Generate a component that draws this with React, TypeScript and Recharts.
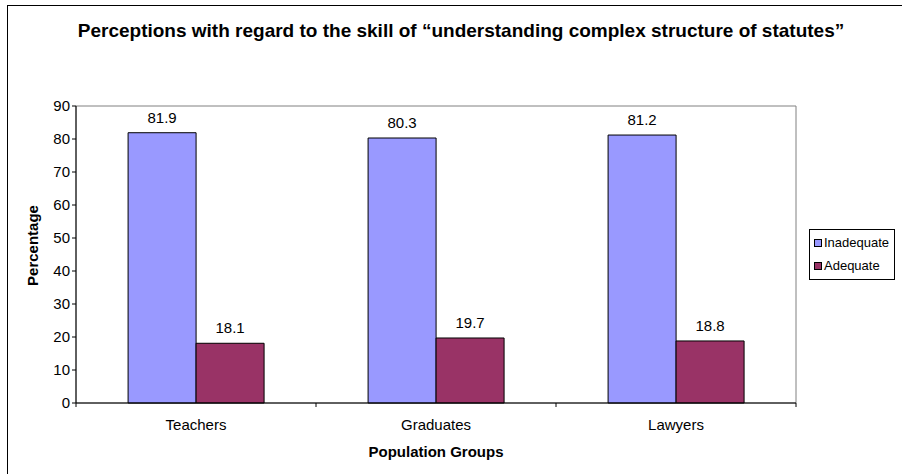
import { BarChart, Bar, XAxis, YAxis, LabelList, Legend, ReferenceArea, Label } from "recharts";

const groups = ["Teachers", "Graduates", "Lawyers"];
const seriesNames = ["Inadequate", "Adequate"];
const inadequate = [81.9, 80.3, 81.2];
const adequate = [18.1, 19.7, 18.8];
const yTicks = [0, 10, 20, 30, 40, 50, 60, 70, 80, 90];

const data = groups.map((g, i) => ({ group: g, Inadequate: inadequate[i], Adequate: adequate[i] }));

const FONT = "'Liberation Sans', Arial, sans-serif";

const GroupTick = (props: any) => {
  const { x, y, payload, index } = props;
  const half = payload.offset || 120;
  return (
    <g>
      <line x1={x - half} y1={y - 8} x2={x - half} y2={y - 4} stroke="#000" />
      {index === groups.length - 1 && (
        <line x1={x + half} y1={y - 8} x2={x + half} y2={y - 4} stroke="#000" />
      )}
      <text x={x} y={y + 19} textAnchor="middle" fontSize={15} fontFamily={FONT} fill="#000">
        {payload.value}
      </text>
    </g>
  );
};

const LegendBox = ({ payload }: any) => {
  const items = [...(payload || [])].sort(
    (a: any, b: any) => seriesNames.indexOf(a.value) - seriesNames.indexOf(b.value)
  );
  return (
    <div
      style={{
        border: "1px solid #000",
        background: "#fff",
        width: 86,
        height: 51,
        padding: "1px 0 0 4px",
        fontFamily: FONT,
        fontSize: 13,
        boxSizing: "border-box",
      }}
    >
      {items.map((p: any) => (
        <div key={p.value} style={{ display: "flex", alignItems: "center", height: 23 }}>
          <span
            style={{
              display: "inline-block",
              width: 6,
              height: 6,
              background: p.color,
              border: "1px solid #000",
              marginRight: 2,
            }}
          />
          {p.value}
        </div>
      ))}
    </div>
  );
};

export default function App() {
  return (
    <div style={{ position: "absolute", left: 0, top: 0, width: 902, height: 474, overflow: "hidden", background: "#fff" }}>
      <div
        style={{
          position: "absolute",
          left: 7,
          top: 5,
          width: 1000,
          height: 1000,
          border: "1px solid #000",
        }}
      />
      <div
        style={{
          position: "absolute",
          left: 0,
          top: 20,
          width: 922,
          textAlign: "center",
          fontFamily: FONT,
          fontWeight: "bold",
          fontSize: 19,
        }}
      >
        Perceptions with regard to the skill of “understanding complex structure of statutes”
      </div>
      <div style={{ position: "absolute", left: 0, top: 0 }}>
        <BarChart
          width={902}
          height={474}
          data={data}
          margin={{ top: 106, right: 106, bottom: 41, left: 36 }}
          barCategoryGap="21.7%"
          barGap={0}
        >
          <ReferenceArea y1={0} y2={90} fill="none" stroke="#808080" strokeWidth={1} ifOverflow="visible" />
          <XAxis
            dataKey="group"
            height={30}
            stroke="#000"
            tickLine={false}
            tick={<GroupTick />}
            interval={0}
          >
            <Label
              value="Population Groups"
              position="insideBottom"
              offset={-24}
              style={{ fontFamily: FONT, fontWeight: "bold", fontSize: 15, fill: "#000" }}
            />
          </XAxis>
          <YAxis
            width={40}
            domain={[0, 90]}
            ticks={yTicks}
            interval={0}
            stroke="#000"
            tickSize={4}
            tick={{ fontFamily: FONT, fontSize: 15, fill: "#000" }}
          >
            <Label
              value="Percentage"
              angle={-90}
              position="center"
              dx={-23}
              dy={-9}
              style={{ fontFamily: FONT, fontWeight: "bold", fontSize: 15, fill: "#000", textAnchor: "middle" }}
            />
          </YAxis>
          <Legend
            layout="horizontal"
            align="center"
            verticalAlign="middle"
            content={<LegendBox />}
            wrapperStyle={{ position: "absolute", left: 809, top: 229, width: 86, height: 51 }}
          />
          <Bar dataKey="Inadequate" fill="#9999FF" stroke="#000" strokeWidth={1} isAnimationActive={false}>
            <LabelList dataKey="Inadequate" position="top" offset={10} style={{ fontFamily: FONT, fontSize: 15, fill: "#000" }} />
          </Bar>
          <Bar dataKey="Adequate" fill="#993366" stroke="#000" strokeWidth={1} isAnimationActive={false}>
            <LabelList dataKey="Adequate" position="top" offset={10} style={{ fontFamily: FONT, fontSize: 15, fill: "#000" }} />
          </Bar>
        </BarChart>
      </div>
    </div>
  );
}
